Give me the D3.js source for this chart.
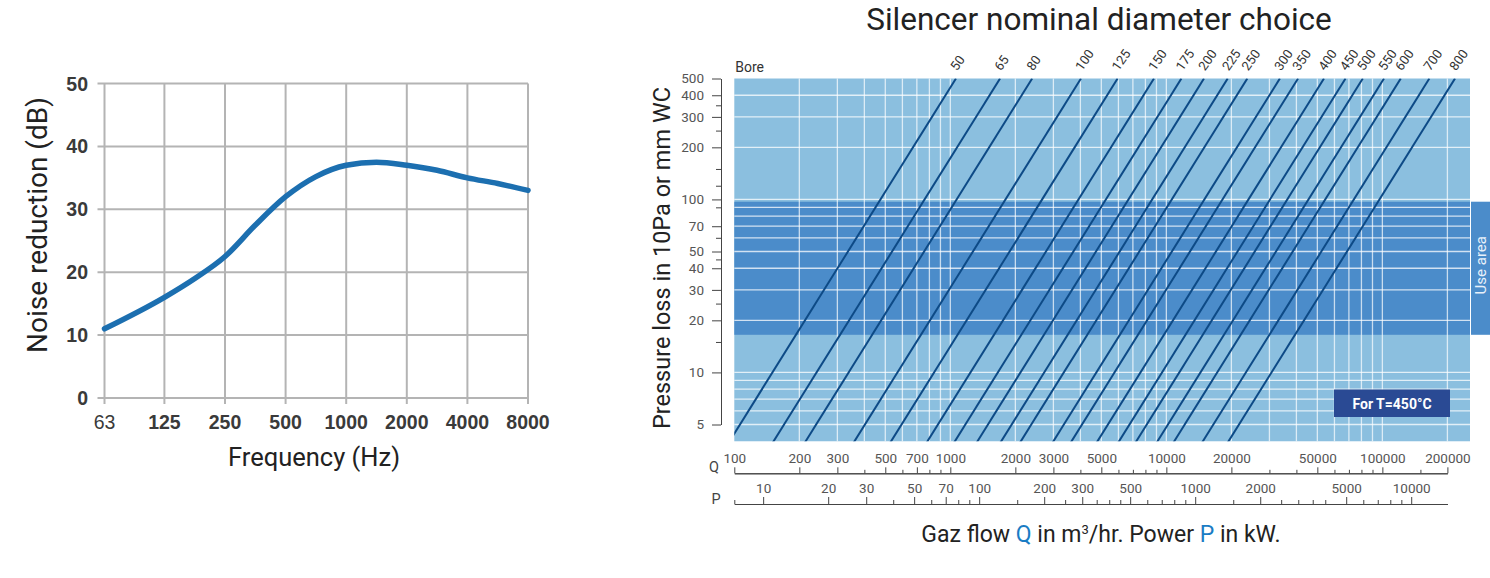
<!DOCTYPE html>
<html>
<head>
<meta charset="utf-8">
<script src="https://cdn.jsdelivr.net/npm/d3@7"></script>
<style>
body { margin: 0; background: #fff; }
text { font-family: Roboto, "Noto Sans", sans-serif; }
</style>
</head>
<body>
<div id="chart"></div>
<script>
// ---- noise reduction curve (left)
var freqTicks = [63, 125, 250, 500, 1000, 2000, 4000, 8000];
var dbTicks = [0, 10, 20, 30, 40, 50];
var noiseFreq = [63, 125, 177, 250, 354, 500, 707, 1000, 1414, 2000, 2828, 4000, 5657, 8000];
var noiseDb = [11, 16, 19, 22.5, 27.5, 32, 35.2, 37, 37.5, 37, 36.2, 35, 34.1, 33];

// ---- silencer chart (right)
var bores = ["50", "65", "80", "100", "125", "150", "175", "200", "225", "250",
             "300", "350", "400", "450", "500", "550", "600", "700", "800"];
// gas flow (m3/h) at which each bore gives 100 mm WC
var boreFlowAt100 = [475, 760, 1070, 1800, 2660, 3920, 5250, 6680, 8600, 10600,
                     15000, 18200, 24000, 30200, 36300, 45500, 54400, 73800, 97000];
var useArea = [16.5, 97];
var pressTicks = [5, 10, 20, 30, 40, 50, 70, 100, 200, 300, 400, 500];
var pressMinor = [15, 25, 45, 60, 90, 120, 150, 250, 350];
var pressGrid = [5, 6, 7, 8, 9, 10, 20, 30, 40, 50, 60, 70, 80, 90, 100, 200, 300, 400];
var flowTicks = [100, 200, 300, 500, 700, 1000, 2000, 3000, 5000, 10000, 20000, 50000, 100000, 200000];
var flowMinor = [400, 600, 800, 900, 4000, 6000, 7000, 8000, 9000, 30000, 40000,
                 60000, 70000, 80000, 90000, 150000];
var powerTicks = [10, 20, 30, 50, 70, 100, 200, 300, 500, 1000, 2000, 5000, 10000];
var powerMinor = [40, 60, 80, 90, 150, 250, 350, 400, 450, 600, 700, 800, 900,
                  1500, 2500, 3000, 3500, 4000, 6000, 7000, 8000, 9000];
var flowPerKw = 13.6;

var svg = d3.select("#chart")
  .append("svg")
  .attr("width", 1490)
  .attr("height", 578);

// =================== left chart
var fx = d3.scaleLog().base(2).domain([63, 8000]).range([104.5, 528]);
var fy = d3.scaleLinear().domain([0, 50]).range([398, 83.5]);

var lg = svg.append("g");
lg.selectAll(".vgrid")
  .data(freqTicks)
  .enter()
  .append("line")
  .attr("x1", d => fx(d)).attr("x2", d => fx(d))
  .attr("y1", fy(50)).attr("y2", fy(0) + 6)
  .attr("stroke", "#b4b4b4").attr("stroke-width", 2);
lg.selectAll(".hgrid")
  .data(dbTicks)
  .enter()
  .append("line")
  .attr("x1", fx(63) - 7).attr("x2", fx(8000))
  .attr("y1", d => fy(d)).attr("y2", d => fy(d))
  .attr("stroke", "#b4b4b4").attr("stroke-width", 2);

lg.selectAll(".ylab")
  .data(dbTicks)
  .enter()
  .append("text")
  .attr("x", 88)
  .attr("y", d => fy(d))
  .attr("dy", "0.36em")
  .attr("text-anchor", "end")
  .style("font-family", "'Liberation Sans', Arial, sans-serif")
  .style("font-weight", "bold")
  .attr("font-size", 19.5)
  .attr("fill", "#3a3a3a")
  .text(d => d);
lg.selectAll(".xlab")
  .data(freqTicks)
  .enter()
  .append("text")
  .attr("x", d => fx(d))
  .attr("y", 429)
  .attr("text-anchor", "middle")
  .style("font-family", "'Liberation Sans', Arial, sans-serif")
  .style("font-weight", (d, i) => i == 0 ? "normal" : "bold")
  .attr("font-size", 19.5)
  .attr("fill", "#3a3a3a")
  .text(d => d);

var noiseLine = d3.line()
  .x(d => fx(d[0]))
  .y(d => fy(d[1]))
  .curve(d3.curveMonotoneX);
lg.append("path")
  .datum(noiseFreq.map((f, i) => [f, noiseDb[i]]))
  .attr("d", noiseLine)
  .attr("fill", "none")
  .attr("stroke", "#1c6fb0")
  .attr("stroke-width", 5.5)
  .attr("stroke-linecap", "round");

lg.append("text")
  .attr("transform", "translate(47,225) rotate(-90)")
  .attr("text-anchor", "middle")
  .attr("font-size", 28)
  .attr("fill", "#222")
  .text("Noise reduction (dB)");
lg.append("text")
  .attr("x", 314).attr("y", 466)
  .attr("text-anchor", "middle")
  .attr("font-size", 25.5)
  .attr("fill", "#222")
  .text("Frequency (Hz)");

// =================== right chart
var qx = d3.scaleLog().domain([100, 200000]).range([734.3, 1447.4]);
var py = d3.scaleLog().domain([5, 500]).range([424.5, 78.5]);
var px = d3.scaleLog().domain([100 / flowPerKw, 200000 / flowPerKw]).range(qx.range());

var plotL = qx(100), plotR = 1470, plotT = py(500), plotB = py(4);
var rg = svg.append("g");

rg.append("rect")
  .attr("x", plotL).attr("y", plotT)
  .attr("width", plotR - plotL).attr("height", plotB - plotT)
  .attr("fill", "#8bbfdf");
rg.append("rect")
  .attr("x", plotL).attr("y", py(useArea[1]))
  .attr("width", plotR - plotL).attr("height", py(useArea[0]) - py(useArea[1]))
  .attr("fill", "#4b8cca");

// grid
var gridQ = d3.scaleLog().domain([100, 250000]).ticks().filter(d => d > 100 && qx(d) < plotR);
rg.selectAll(".qgrid")
  .data(gridQ)
  .enter()
  .append("line")
  .attr("x1", d => qx(d)).attr("x2", d => qx(d))
  .attr("y1", plotT).attr("y2", plotB)
  .attr("stroke", "#fff").attr("stroke-opacity", 0.7).attr("stroke-width", 1.3);
rg.selectAll(".pgrid")
  .data(pressGrid)
  .enter()
  .append("line")
  .attr("x1", plotL).attr("x2", plotR)
  .attr("y1", d => py(d)).attr("y2", d => py(d))
  .attr("stroke", "#fff").attr("stroke-opacity", 0.75).attr("stroke-width", 1.3);

// bore lines, pressure loss rises with flow squared
svg.append("clipPath").attr("id", "plotclip")
  .append("rect")
  .attr("x", plotL).attr("y", plotT)
  .attr("width", plotR - plotL).attr("height", plotB - plotT);

var boreLine = d3.line()
  .x(d => qx(d[0]))
  .y(d => py(d[1]));
rg.append("g")
  .attr("clip-path", "url(#plotclip)")
  .selectAll("path")
  .data(boreFlowAt100)
  .enter()
  .append("path")
  .attr("d", q => boreLine([3, 500].map(p => [q * Math.sqrt(p / 100), p])))
  .attr("fill", "none")
  .attr("stroke", "#0d4a86")
  .attr("stroke-width", 2);

rg.selectAll(".borelab")
  .data(bores)
  .enter()
  .append("text")
  .attr("transform", (d, i) => "translate(" + (qx(boreFlowAt100[i] * Math.sqrt(5)) + 1) + "," + (plotT - 7) + ") rotate(-55)")
  .attr("font-size", 13)
  .attr("fill", "#333")
  .text(d => d);
rg.append("text")
  .attr("x", plotL + 1).attr("y", plotT - 7)
  .attr("font-size", 14)
  .attr("fill", "#333")
  .text("Bore");

// y axis
rg.append("g")
  .attr("transform", "translate(721,0)")
  .call(d3.axisLeft(py).tickValues(pressTicks).tickFormat(d3.format("d")).tickSize(9).tickSizeOuter(0).tickPadding(8));
rg.append("g")
  .attr("transform", "translate(721,0)")
  .call(d3.axisLeft(py).tickValues(pressMinor).tickFormat("").tickSize(5).tickSizeOuter(0));

// Q axis
rg.append("g")
  .attr("transform", "translate(0,473.3)")
  .call(d3.axisTop(qx).tickValues(flowTicks).tickFormat(d3.format("d")).tickSize(6).tickSizeOuter(0).tickPadding(4));
rg.append("g")
  .attr("transform", "translate(0,473.3)")
  .call(d3.axisTop(qx).tickValues(flowMinor).tickFormat("").tickSize(3.5).tickSizeOuter(0));

// P axis
rg.append("g")
  .attr("transform", "translate(0,504)")
  .call(d3.axisTop(px).tickValues(powerTicks).tickFormat(d3.format("d")).tickSize(7).tickSizeOuter(0).tickPadding(4));
rg.append("g")
  .attr("transform", "translate(0,504)")
  .call(d3.axisTop(px).tickValues(powerMinor.concat([100 / flowPerKw])).tickFormat("").tickSize(4).tickSizeOuter(0));

rg.selectAll(".domain").attr("stroke", "#444");
rg.selectAll(".tick line").attr("stroke", "#444");
rg.selectAll(".tick text")
  .attr("fill", "#555")
  .attr("font-size", 13.5)
  .style("font-family", "Roboto, 'Noto Sans', sans-serif");

rg.append("text").attr("x", 714).attr("y", 467).attr("dy", "0.36em")
  .attr("text-anchor", "middle").attr("font-size", 14.5).attr("fill", "#444").text("Q");
rg.append("text").attr("x", 716).attr("y", 499).attr("dy", "0.36em")
  .attr("text-anchor", "middle").attr("font-size", 14.5).attr("fill", "#444").text("P");

// use area tab
rg.append("rect")
  .attr("x", plotR + 1).attr("y", py(useArea[1]))
  .attr("width", 1490 - plotR - 1).attr("height", py(useArea[0]) - py(useArea[1]))
  .attr("fill", "#4b8cca");
rg.append("text")
  .attr("transform", "translate(1485.5," + ((py(useArea[1]) + py(useArea[0])) / 2 - 3) + ") rotate(-90)")
  .attr("text-anchor", "middle")
  .attr("font-size", 15)
  .attr("fill", "#e8f1fa")
  .text("Use area");

// temperature box
rg.append("rect")
  .attr("x", 1334).attr("y", 389.5)
  .attr("width", 116).attr("height", 27.5)
  .attr("fill", "#2a4a94");
rg.append("text")
  .attr("x", 1392).attr("y", 403.5).attr("dy", "0.36em")
  .attr("text-anchor", "middle")
  .attr("font-size", 14)
  .attr("font-weight", "bold")
  .attr("fill", "#fff")
  .text("For T=450°C");

// titles
svg.append("text")
  .attr("x", 1099).attr("y", 30)
  .attr("text-anchor", "middle")
  .attr("font-size", 31.5)
  .attr("fill", "#222")
  .text("Silencer nominal diameter choice");
svg.append("text")
  .attr("transform", "translate(670,258) rotate(-90)")
  .attr("text-anchor", "middle")
  .attr("font-size", 23.5)
  .attr("fill", "#222")
  .text("Pressure loss in 10Pa or mm WC");

var xt = svg.append("text")
  .attr("x", 1101).attr("y", 542)
  .attr("text-anchor", "middle")
  .attr("font-size", 23)
  .attr("fill", "#222");
xt.append("tspan").text("Gaz flow ");
xt.append("tspan").attr("fill", "#1a7cc4").text("Q");
xt.append("tspan").text(" in m");
xt.append("tspan").attr("font-size", 13).attr("dy", -8).text("3");
xt.append("tspan").attr("dy", 8).text("/hr. Power ");
xt.append("tspan").attr("fill", "#1a7cc4").text("P");
xt.append("tspan").text(" in kW.");
</script>
</body>
</html>
